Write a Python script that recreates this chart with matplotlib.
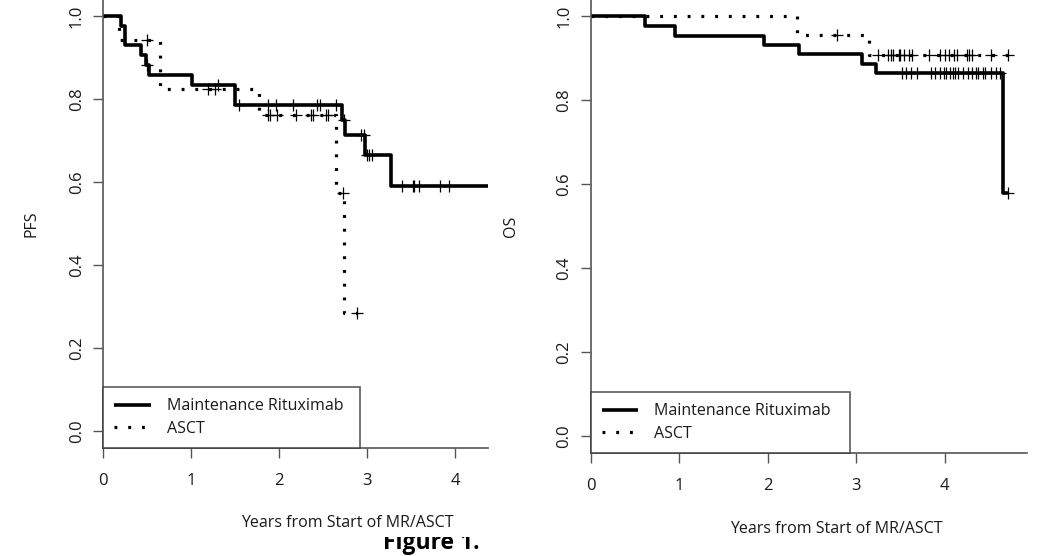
import numpy as np
import matplotlib
matplotlib.use("Agg")
import matplotlib.pyplot as plt
from matplotlib.transforms import Bbox, TransformedBbox

plt.rcParams['font.family'] = ['Open Sans', 'DejaVu Sans']

# PFS (left panel): step times and survival levels
mr_pfs_t = [0, 0.21, 0.25, 0.44, 0.49, 0.52, 1.01, 1.50, 2.71, 2.75, 2.98, 3.27]
mr_pfs_s = [1.0, 0.976, 0.930, 0.907, 0.884, 0.860, 0.834, 0.786, 0.750, 0.714, 0.666, 0.591]
mr_pfs_end = 4.6
mr_pfs_cens = [0.50, 1.31, 1.55, 1.88, 1.97, 2.16, 2.43, 2.47, 2.65, 2.74, 2.93, 2.96,
               3.00, 3.02, 3.05, 3.40, 3.52, 3.53, 3.59, 3.82, 3.93]

asct_pfs_t = [0, 0.19, 0.645, 1.77, 2.65, 2.74]
asct_pfs_s = [1.0, 0.942, 0.825, 0.763, 0.575, 0.286]
asct_pfs_end = 2.88
asct_pfs_cens = [0.50, 1.19, 1.27, 1.88, 1.90, 1.98, 2.19, 2.36, 2.38, 2.53, 2.55, 2.73, 2.88]

# OS (right panel)
mr_os_t = [0, 0.62, 0.96, 1.96, 2.35, 3.07, 3.23, 4.66]
mr_os_s = [1.0, 0.977, 0.954, 0.931, 0.909, 0.886, 0.864, 0.578]
mr_os_end = 4.72
mr_os_cens = [3.52, 3.56, 3.62, 3.69, 3.85, 3.89, 3.95, 3.99, 4.02, 4.06, 4.09, 4.12,
              4.15, 4.21, 4.26, 4.31, 4.35, 4.38, 4.43, 4.45, 4.52, 4.58, 4.63, 4.72]

asct_os_t = [0, 2.33, 3.15]
asct_os_s = [1.0, 0.955, 0.908]
asct_os_end = 4.72
asct_os_cens = [2.78, 3.25, 3.36, 3.39, 3.42, 3.48, 3.50, 3.54, 3.60, 3.63, 3.82, 3.95,
                4.00, 4.05, 4.11, 4.14, 4.25, 4.27, 4.31, 4.52, 4.72]

labels = ["Maintenance Rituximab", "ASCT"]
xticks = [0, 1, 2, 3, 4]
yticks = [0.0, 0.2, 0.4, 0.6, 0.8, 1.0]
xlabel = "Years from Start of MR/ASCT"

txt = '#1a1a1a'
axc = '#555555'
dotted = (0, (0.9, 3.4))


def km(ax, t, s, end, cens, ls, lw, label):
    t = np.array(t + [end])
    s = np.array(s + [s[-1]])
    ax.step(t, s, where='post', color='black', lw=lw, linestyle=ls, label=label,
            dash_capstyle='butt', solid_capstyle='butt')
    c = np.array(cens)
    idx = np.searchsorted(t[:-1], c, side='right') - 1
    ax.plot(c, s[idx], linestyle='none', marker='+', color='black',
            markersize=9, markeredgewidth=0.9)


def style(ax, xmax, ylab, legw, xlab_x, ylab_x):
    ax.set_xlim(0, xmax)
    ax.set_ylim(-0.04, 1.04)
    ax.spines['top'].set_visible(False)
    ax.spines['right'].set_visible(False)
    for sp in ['left', 'bottom']:
        ax.spines[sp].set_color(axc)
        ax.spines[sp].set_linewidth(1.2)
    ax.set_xticks(xticks)
    ax.set_xticklabels([str(v) for v in xticks])
    ax.set_yticks(yticks)
    ax.set_yticklabels(["%.1f" % v for v in yticks], rotation=90, va='center')
    ax.tick_params(axis='both', direction='out', length=7, width=1.0, color=axc,
                   labelsize=12, labelcolor=txt)
    ax.tick_params(axis='x', pad=11)
    ax.tick_params(axis='y', pad=6)
    ax.set_ylabel(ylab, fontsize=11.5, color=txt)
    ax.yaxis.set_label_coords(ylab_x, 0.5)
    ax.set_xlabel(xlabel, fontsize=11.5, color=txt)
    ax.xaxis.set_label_coords(xlab_x, -0.15)
    leg = ax.legend(loc='lower left', bbox_to_anchor=(0, 0, legw, 1), mode='expand',
                    borderaxespad=0, frameon=True, fancybox=False, edgecolor='#333333',
                    handlelength=2.3, handletextpad=1.0, borderpad=0.7,
                    labelspacing=0.4, fontsize=11.5)
    leg.get_frame().set_linewidth(1.2)
    for t in leg.get_texts():
        t.set_color(txt)


fig = plt.figure(figsize=(10.38, 5.56), dpi=100)
ax1 = fig.add_axes([102.7 / 1038, 1 - 448 / 556, (488 - 102.7) / 1038, 448.2 / 556])
ax2 = fig.add_axes([590.5 / 1038, 1 - 453 / 556, (1027 - 590.5) / 1038, 453.6 / 556])
for ax in (ax1, ax2):
    ax.patch.set_alpha(0)

km(ax1, mr_pfs_t, mr_pfs_s, mr_pfs_end, mr_pfs_cens, '-', 2.6, labels[0])
km(ax1, asct_pfs_t, asct_pfs_s, asct_pfs_end, asct_pfs_cens, dotted, 2.3, labels[1])
style(ax1, 4.37, "PFS", 0.668, 0.634, -0.165)

km(ax2, mr_os_t, mr_os_s, mr_os_end, mr_os_cens, '-', 2.6, labels[0])
km(ax2, asct_os_t, asct_os_s, asct_os_end, asct_os_cens, dotted, 2.3, labels[1])
style(ax2, 4.93, "OS", 0.594, 0.562, -0.164)

# caption line partly hidden under the chart
cap = fig.text(383 / 1038, 1 - 549 / 556, "Figure 1.", fontsize=16.5, fontweight='bold',
               color='black', ha='left', va='baseline', zorder=-2)
clip = TransformedBbox(Bbox([[0, 0], [1, 1 - 537 / 556]]), fig.transFigure)
cap.set_clip_box(clip)
cap.set_clip_on(True)

fig.savefig("out.png", dpi=100)
